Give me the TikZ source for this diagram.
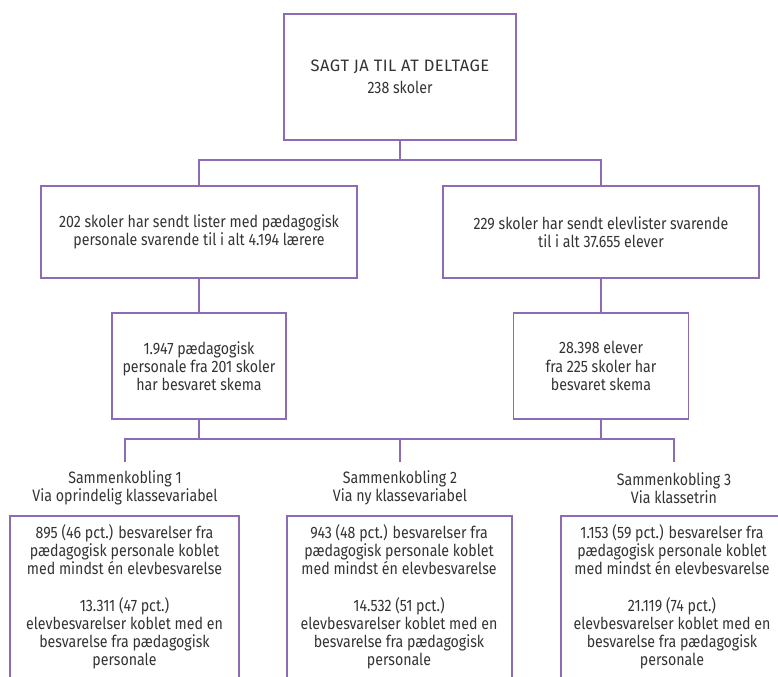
\documentclass[tikz,border=0pt]{standalone}
\usepackage{fontspec}
\setmainfont{Fira Sans}[FakeStretch=0.86]
\newfontfamily\capsfont{Fira Sans}[LetterSpace=3]
\definecolor{lilla}{HTML}{8E6CB5}
\definecolor{tekst}{HTML}{333333}
\begin{document}
\begin{tikzpicture}[x=1bp,y=-1bp,
  every node/.style={text=tekst,font=\fontsize{16.5bp}{18.2bp}\selectfont,align=center,inner sep=0pt},
  box/.style={draw=lilla,line width=1.6bp},
  conn/.style={draw=lilla,line width=1.6bp}]
\useasboundingbox (0,0) rectangle (778,677);
% top
\node[box,minimum width=232bp,minimum height=126bp] (top) at (400,77) {{\capsfont SAGT JA TIL AT DELTAGE}\\[4bp]238 skoler};
\node[box,minimum width=316bp,minimum height=92bp] (A) at (199,232) {202 skoler har sendt lister med pædagogisk\\personale svarende til i alt 4.194 lærere};
\node[box,minimum width=316bp,minimum height=92bp] (B) at (601,232) {229 skoler har sendt elevlister svarende\\til i alt 37.655 elever};
\node[box,minimum width=174bp,minimum height=106bp] (C) at (199,366) {1.947 pædagogisk\\personale fra 201 skoler\\har besvaret skema};
\node[box,minimum width=175bp,minimum height=106bp] (D) at (601,366) {28.398 elever\\fra 225 skoler har\\besvaret skema};
% labels
\node (L1) at (125,488) {Sammenkobling 1\\Via oprindelig klassevariabel};
\node (L2) at (400,488) {Sammenkobling 2\\Via ny klassevariabel};
\node (L3) at (674,488) {Sammenkobling 3\\Via klassetrin};
% bottom texts
\node (E) at (124.5,597) {895 (46 pct.) besvarelser fra\\pædagogisk personale koblet\\med mindst én elevbesvarelse\\[18.2bp]13.311 (47 pct.)\\elevbesvarelser koblet med en\\besvarelse fra pædagogisk\\personale};
\node (F) at (399,597) {943 (48 pct.) besvarelser fra\\pædagogisk personale koblet\\med mindst én elevbesvarelse\\[18.2bp]14.532 (51 pct.)\\elevbesvarelser koblet med en\\besvarelse fra pædagogisk\\personale};
\node (G) at (672,597) {1.153 (59 pct.) besvarelser fra\\pædagogisk personale koblet\\med mindst én elevbesvarelse\\[18.2bp]21.119 (74 pct.)\\elevbesvarelser koblet med en\\besvarelse fra pædagogisk\\personale};
% open boxes (cut at the bottom of the picture)
\coordinate (Etl) at (10,516); \coordinate (Etr) at (239,516);
\coordinate (Ftl) at (287,516); \coordinate (Ftr) at (512,516);
\coordinate (Gtl) at (561,516); \coordinate (Gtr) at (790,516);
\draw[conn] (Etl |- 0,690) -- (Etl) -- (Etr) -- (Etr |- 0,690);
\draw[conn] (Ftl |- 0,690) -- (Ftl) -- (Ftr) -- (Ftr |- 0,690);
\draw[conn] (Gtl |- 0,690) -- (Gtl) -- (Gtr) -- (Gtr |- 0,690);
% connectors
\coordinate (h1) at (0,160);
\coordinate (h2) at (0,439);
\coordinate (t1) at (125,462); \coordinate (t2) at (400,462); \coordinate (t3) at (674,462);
\draw[conn] (top.south) -- (top.south |- h1);
\draw[conn] (A.north) -- (A.north |- h1) -| (B.north);
\draw[conn] (A.south) -- (C.north);
\draw[conn] (B.south) -- (D.north);
\draw[conn] (C.south) -- (C.south |- h2);
\draw[conn] (D.south) -- (D.south |- h2);
\draw[conn] (t1) -- (t1 |- h2) -- (t3 |- h2) -- (t3);
\draw[conn] (t2) -- (t2 |- h2);
\end{tikzpicture}
\end{document}
